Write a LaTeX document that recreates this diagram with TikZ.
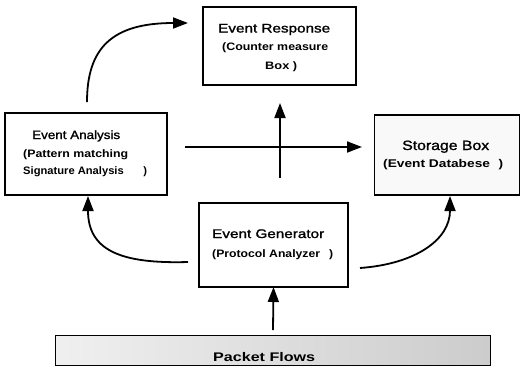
\documentclass[tikz,border=0pt]{standalone}
\usepackage{fontspec}
\setmainfont{Liberation Sans}
\newfontfamily\ttlfont[FakeBold=1.3]{Liberation Sans}
\usepackage{graphicx}
\usetikzlibrary{arrows.meta}
\newcommand\wtxt[2]{\resizebox{#1}{\height}{#2}}
\begin{document}
\begin{tikzpicture}[x=1pt,y=-1pt,
  box/.style={draw=black,line width=1.2pt,inner sep=0pt,outer sep=0pt,fill=white},
  ttl/.style={inner sep=0pt,anchor=base west,font=\ttlfont\fontsize{12.5}{14}\selectfont},
  sub/.style={inner sep=0pt,anchor=base west,font=\fontsize{10.8}{12}\selectfont\bfseries},
  arr/.style={line width=1.8pt,-{Triangle[length=15pt,width=11pt]}}]
\useasboundingbox (0,0) rectangle (521,378);
% boxes
\node[box,minimum width=153pt,minimum height=78pt] (resp) at (279.5,46) {};
\node[box,minimum width=162pt,minimum height=82pt] (anal) at (86,154) {};
\node[box,fill=gray!5,minimum width=145pt,minimum height=80pt] (stor) at (447,155) {};
\node[box,minimum width=149pt,minimum height=84pt] (gen) at (273.5,245) {};
\node[box,line width=1pt,left color=gray!12,right color=gray!40,minimum width=435pt,minimum height=30pt] (pkt) at (272.5,350) {};
% texts
\node[ttl] (t1) at (218,32.5) {\wtxt{112pt}{Event Response}};
\node[sub] (t2) at (222,50.5) {\wtxt{106pt}{(Counter measure}};
\node[sub] (t3) at (265,69) {\wtxt{32pt}{Box )}};
\node[ttl,font=\ttlfont\fontsize{12}{14}\selectfont] (t4) at (32,139) {\wtxt{88pt}{Event Analysis}};
\node[sub] (t5) at (23,157) {\wtxt{105pt}{(Pattern matching}};
\node[sub] (t6) at (23,174) {\wtxt{124pt}{Signature Analysis\hspace{19pt})}};
\node[ttl,font=\ttlfont\fontsize{13.5}{15}\selectfont] (t7) at (402,150) {\wtxt{87pt}{Storage Box}};
\node[sub,font=\fontsize{11.2}{13}\selectfont\bfseries] (t8) at (383,167) {\wtxt{120pt}{(Event Databese\hspace{7pt})}};
\node[ttl] (t9) at (212,238) {\wtxt{112pt}{Event Generator}};
\node[sub] (t10) at (212,257) {\wtxt{121pt}{(Protocol Analyzer\hspace{8pt})}};
\node[sub,font=\fontsize{12.5}{14}\selectfont\bfseries] (t11) at (213,361) {\wtxt{102pt}{Packet Flows}};
% connectors
\coordinate (c1s) at (87,102);
\coordinate (c1e) at (188,23);
\draw[arr] (c1s) .. controls (87,48) and (112,23) .. (c1e);
\coordinate (hs) at (185,147);
\coordinate (he) at (362,147);
\coordinate (vs) at (280,178);
\coordinate (ve) at (280,103);
\draw[arr] (hs) -- (he);
\draw[arr] (vs) -- (ve);
\coordinate (bl) at (188,262);
\draw[arr] (bl) .. controls (120,264) and (88,250) .. ([xshift=2pt,yshift=-1pt]anal.south);
\coordinate (br) at (360,268);
\draw[arr] (br) .. controls (415,264) and (450,240) .. ([xshift=3pt,yshift=-1pt]stor.south);
\coordinate (pu) at (273,330);
\draw[arr] (pu) -- (gen.south);
\end{tikzpicture}
\end{document}
